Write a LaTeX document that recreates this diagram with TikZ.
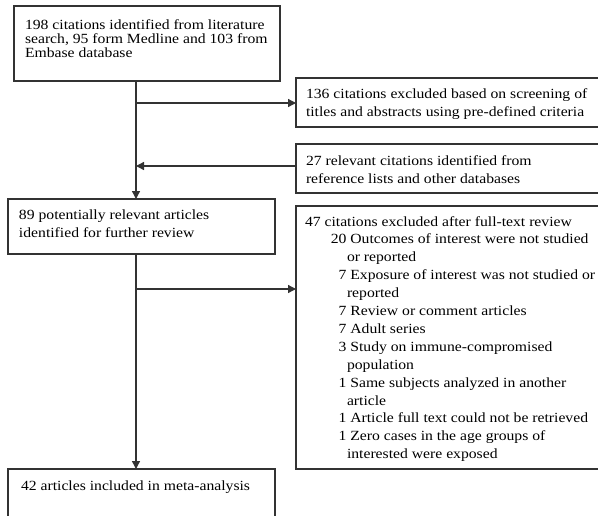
\documentclass[tikz,border=0pt]{standalone}
\usepackage{fontspec}
\setmainfont{Liberation Serif}
\usetikzlibrary{arrows.meta}
\newcommand{\hstretch}[2][1.12]{\scalebox{#1}[1]{#2}}
\begin{document}
\begin{tikzpicture}[x=1pt,y=-1pt,
  box/.style={draw=black!80, line width=1.3pt, rectangle, inner sep=0pt, outer sep=0pt, anchor=north west},
  txt/.style={anchor=base west, inner sep=0pt, outer sep=0pt, font=\fontsize{14}{17.9}\selectfont},
  conn/.style={draw=black!80, line width=1.3pt, -{Triangle[length=8pt,width=8pt]}}]
\clip (0,0) rectangle (598,515);
% boxes
\node[box, minimum width=266pt, minimum height=75pt]  (b1) at (14,6) {};
\node[box, minimum width=310pt, minimum height=49pt]  (b2) at (296,78) {};
\node[box, minimum width=310pt, minimum height=49pt]  (b3) at (296,144) {};
\node[box, minimum width=267pt, minimum height=55pt]  (b4) at (8,199) {};
\node[box, minimum width=310pt, minimum height=263pt] (b5) at (296,206) {};
\node[box, minimum width=267pt, minimum height=60pt]  (b6) at (8,469) {};
% texts
\node[txt] (t1) at (25,29.3) {\hstretch{\parbox[t]{400pt}{\raggedright\fontsize{14}{14.2}\selectfont
198 citations identified from literature\\
search, 95 form Medline and 103 from\\
Embase database}}};
\node[txt] (t2) at (306,98.8) {\hstretch{\parbox[t]{400pt}{\raggedright
136 citations excluded based on screening of\\
titles and abstracts using pre-defined criteria}}};
\node[txt] (t3) at (306,165.8) {\hstretch{\parbox[t]{400pt}{\raggedright
27 relevant citations identified from\\
reference lists and other databases}}};
\node[txt] (t4) at (19,219.3) {\hstretch{\parbox[t]{400pt}{\raggedright
89 potentially relevant articles\\
identified for further review}}};
\node[txt] (t5) at (305,226) {\hstretch{\parbox[t]{400pt}{\raggedright
47 citations excluded after full-text review\\
\makebox[37pt][r]{20}\ Outcomes of interest were not studied\\
\hspace*{37.5pt}or reported\\
\makebox[37pt][r]{7}\ Exposure of interest was not studied or\\
\hspace*{37.5pt}reported\\
\makebox[37pt][r]{7}\ Review or comment articles\\
\makebox[37pt][r]{7}\ Adult series\\
\makebox[37pt][r]{3}\ Study on immune-compromised\\
\hspace*{37.5pt}population\\
\makebox[37pt][r]{1}\ Same subjects analyzed in another\\
\hspace*{37.5pt}article\\
\makebox[37pt][r]{1}\ Article full text could not be retrieved\\
\makebox[37pt][r]{1}\ Zero cases in the age groups of\\
\hspace*{37.5pt}interested were exposed}}};
\node[txt] (t6) at (21,490) {\hstretch{42 articles included in meta-analysis}};
% connectors
\coordinate (m) at (136,0);
\coordinate (j1) at (136,103);
\coordinate (j2) at (136,166);
\coordinate (j3) at (136,289);
\draw[conn] (m |- b1.south) -- (m |- b4.north);
\draw[conn] (j1) -- (j1 -| b2.west);
\draw[conn] (j2 -| b3.west) -- (j2);
\draw[conn] (m |- b4.south) -- (m |- b6.north);
\draw[conn] (j3) -- (j3 -| b5.west);
\end{tikzpicture}
\end{document}
